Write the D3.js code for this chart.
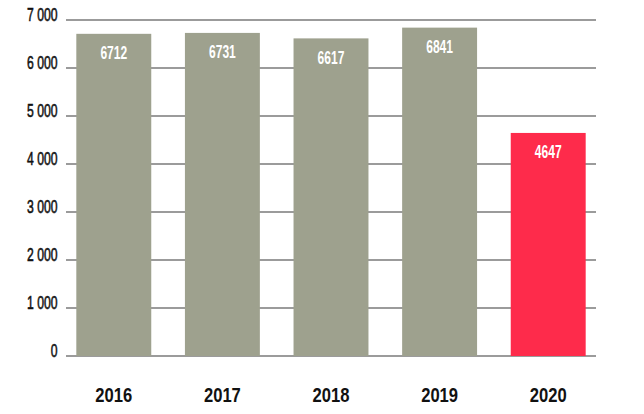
<!DOCTYPE html>
<html><head><meta charset="utf-8">
<script src="https://cdn.jsdelivr.net/npm/d3@7"></script>
<style>
html,body{margin:0;padding:0;background:#fff;}
svg{display:block;}
</style></head>
<body>
<svg id="chart" width="644" height="414"></svg>
<script>
const years = ["2016","2017","2018","2019","2020"];
const values = [6712, 6731, 6617, 6841, 4647];
const barColors = ["#9ea18e","#9ea18e","#9ea18e","#9ea18e","#fe2b4b"];
const yTicks = [0,1000,2000,3000,4000,5000,6000,7000];
const yTickLabels = ["0","1 000","2 000","3 000","4 000","5 000","6 000","7 000"];

const svg = d3.select("#chart");
const x = d3.scaleBand().domain(years).range([66, 596]).paddingInner(0.31).paddingOuter(0.095);
const y = d3.scaleLinear().domain([0, 7000]).range([356, 20]);
const fontN = "'Liberation Sans', Arial, sans-serif";

// gridlines
svg.append("g").selectAll("line").data(yTicks).join("line")
  .attr("x1", 66).attr("x2", 596)
  .attr("y1", d => y(d)).attr("y2", d => y(d))
  .attr("stroke", "#7a7a7a").attr("stroke-width", 1.6);

// y labels
svg.append("g").selectAll("text").data(yTicks).join("text")
  .attr("transform", d => `translate(57.5,${y(d) + 0.5}) scale(0.64,1)`)
  .attr("text-anchor", "end")
  .attr("font-family", fontN).attr("font-size", 19).attr("font-weight", "normal")
  .attr("fill", "#111")
  .attr("stroke", "#111").attr("stroke-width", 0.6)
  .text((d,i) => yTickLabels[i]);

// bars
svg.append("g").selectAll("rect").data(values).join("rect")
  .attr("x", (d,i) => x(years[i]))
  .attr("width", x.bandwidth())
  .attr("y", d => y(d))
  .attr("height", d => y(0) - y(d))
  .attr("fill", (d,i) => barColors[i]);

// value labels
svg.append("g").selectAll("text").data(values).join("text")
  .attr("transform", (d,i) => `translate(${x(years[i]) + x.bandwidth()/2},${y(d) + 25.5}) scale(0.67,1)`)
  .attr("text-anchor", "middle")
  .attr("font-family", fontN).attr("font-size", 18).attr("font-weight", "bold")
  .attr("fill", "#fff")
  .text(d => d);

// x labels
svg.append("g").selectAll("text").data(years).join("text")
  .attr("transform", d => `translate(${x(d) + x.bandwidth()/2},402) scale(0.79,1)`)
  .attr("text-anchor", "middle")
  .attr("font-family", fontN).attr("font-size", 21).attr("font-weight", "bold")
  .attr("fill", "#111")
  .text(d => d);
</script>
</body></html>
